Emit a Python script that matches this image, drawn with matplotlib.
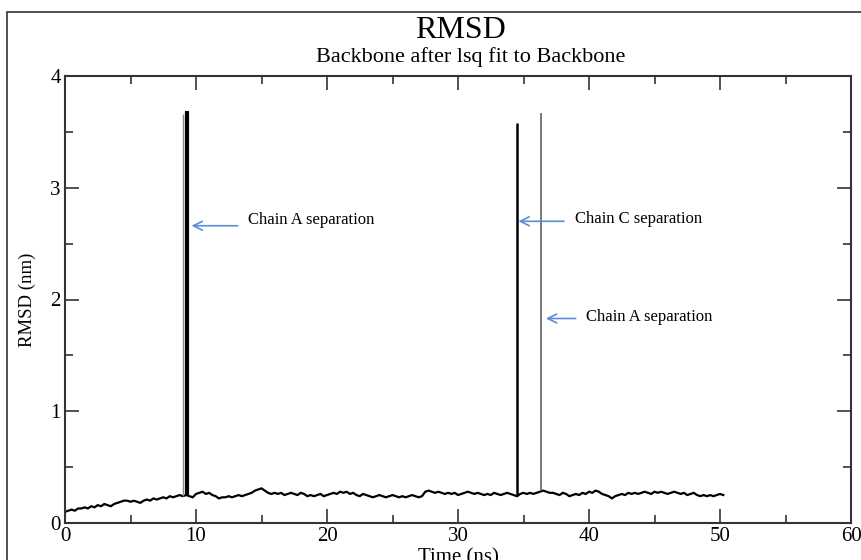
import numpy as np
import matplotlib
matplotlib.use("Agg")
import matplotlib.pyplot as plt
from matplotlib.patches import Rectangle
from matplotlib.ticker import MultipleLocator

time_step = 0.25
rmsd = [
    0.10, 0.11, 0.12, 0.11, 0.13, 0.13, 0.14, 0.13, 0.15, 0.14, 0.16, 0.15,
    0.17, 0.16, 0.15, 0.17, 0.18, 0.19, 0.20, 0.20, 0.19, 0.20, 0.19, 0.18,
    0.20, 0.21, 0.20, 0.22, 0.21, 0.22, 0.23, 0.22, 0.24, 0.23, 0.24, 0.25,
    0.24, 0.25, 0.24, 0.23, 0.26, 0.27, 0.28, 0.26, 0.27, 0.25, 0.24, 0.22,
    0.23, 0.23, 0.24, 0.23, 0.24, 0.25, 0.24, 0.25, 0.26, 0.27, 0.29, 0.30,
    0.31, 0.29, 0.27, 0.26, 0.27, 0.26, 0.27, 0.25, 0.26, 0.27, 0.26, 0.25,
    0.27, 0.26, 0.24, 0.25, 0.24, 0.25, 0.26, 0.24, 0.25, 0.26, 0.27, 0.26,
    0.28, 0.27, 0.28, 0.26, 0.27, 0.25, 0.24, 0.26, 0.25, 0.24, 0.23, 0.24,
    0.25, 0.24, 0.23, 0.24, 0.25, 0.24, 0.23, 0.24, 0.23, 0.24, 0.25, 0.24,
    0.23, 0.24, 0.28, 0.29, 0.28, 0.27, 0.28, 0.27, 0.26, 0.27, 0.26, 0.27,
    0.25, 0.26, 0.27, 0.28, 0.27, 0.26, 0.27, 0.26, 0.25, 0.26, 0.25, 0.27,
    0.26, 0.25, 0.26, 0.27, 0.26, 0.25, 0.24, 0.26, 0.27, 0.26, 0.27, 0.26,
    0.27, 0.28, 0.29, 0.28, 0.27, 0.27, 0.26, 0.25, 0.27, 0.26, 0.24, 0.25,
    0.26, 0.25, 0.27, 0.26, 0.28, 0.27, 0.29, 0.28, 0.26, 0.25, 0.24, 0.22,
    0.24, 0.25, 0.26, 0.25, 0.27, 0.26, 0.27, 0.26, 0.27, 0.28, 0.27, 0.26,
    0.28, 0.27, 0.28, 0.27, 0.26, 0.27, 0.28, 0.27, 0.26, 0.27, 0.25, 0.26,
    0.27, 0.25, 0.24, 0.25, 0.24, 0.25, 0.24, 0.25, 0.26, 0.25,
]
time_ns = np.arange(len(rmsd)) * time_step

# separation spikes
spike_t = [9.0, 9.35, 34.5, 36.3]
spike_top = [3.66, 3.69, 3.58, 3.67]
spike_lw = [1.0, 3.0, 1.8, 1.1]
spike_col = ["#8a8a8a", "black", "black", "#555555"]

# annotations: (label, text position, arrow tip)
notes = [
    ("Chain A separation", (14.0, 2.71), (9.45, 2.66)),
    ("Chain C separation", (38.9, 2.72), (34.4, 2.70)),
    ("Chain A separation", (39.8, 1.84), (36.5, 1.83)),
]

plt.rcParams["font.family"] = ["Liberation Serif", "DejaVu Serif"]

fig = plt.figure(figsize=(8.61, 5.60), dpi=100)
ax = fig.add_axes([65 / 861, 1 - 523 / 560, 786 / 861, 447 / 560])

# outer frame of the original screenshot
fig.patches.append(Rectangle((7 / 861, -0.1), 1.2, 1.1 - 12 / 560,
                             transform=fig.transFigure, fill=False,
                             edgecolor="#333333", linewidth=1.2))

ax.plot(time_ns, rmsd, color="black", linewidth=1.6)
base = np.interp(spike_t, time_ns, rmsd)
for t, b, top, lw, c in zip(spike_t, base, spike_top, spike_lw, spike_col):
    ax.vlines(t, b, top, colors=c, linewidth=lw)

for label, txt, tip in notes:
    ax.annotate("", xy=tip, xytext=(txt[0] - 0.6, tip[1]),
                arrowprops=dict(arrowstyle="->", color="#5b8ed6", lw=1.2,
                                mutation_scale=16))
    ax.text(txt[0], txt[1], label, fontsize=12, va="center", ha="left")

ax.set_xlim(0, 60)
ax.set_ylim(0, 4)
ax.xaxis.set_major_locator(MultipleLocator(10))
ax.xaxis.set_minor_locator(MultipleLocator(5))
ax.yaxis.set_major_locator(MultipleLocator(1))
ax.yaxis.set_minor_locator(MultipleLocator(0.5))
ax.tick_params(which="both", direction="in", top=True, right=True,
               labelsize=15, color="#333333", width=1.2)
ax.tick_params(which="major", length=10, pad=3)
ax.tick_params(which="minor", length=6)
for s in ax.spines.values():
    s.set_linewidth(1.5)
    s.set_color("#333333")

ax.set_ylabel("RMSD (nm)", fontsize=13.5, labelpad=10)
fig.text(458 / 861, 1 - 548 / 560, "Time (ns)", fontsize=15, ha="center", va="top")
fig.text(460 / 861, 1 - 31 / 560, "RMSD", fontsize=23, ha="center", va="center")
fig.text(471 / 861, 1 - 57 / 560, "Backbone after lsq fit to Backbone",
         fontsize=16, ha="center", va="center")

fig.savefig("out.png", dpi=100)
